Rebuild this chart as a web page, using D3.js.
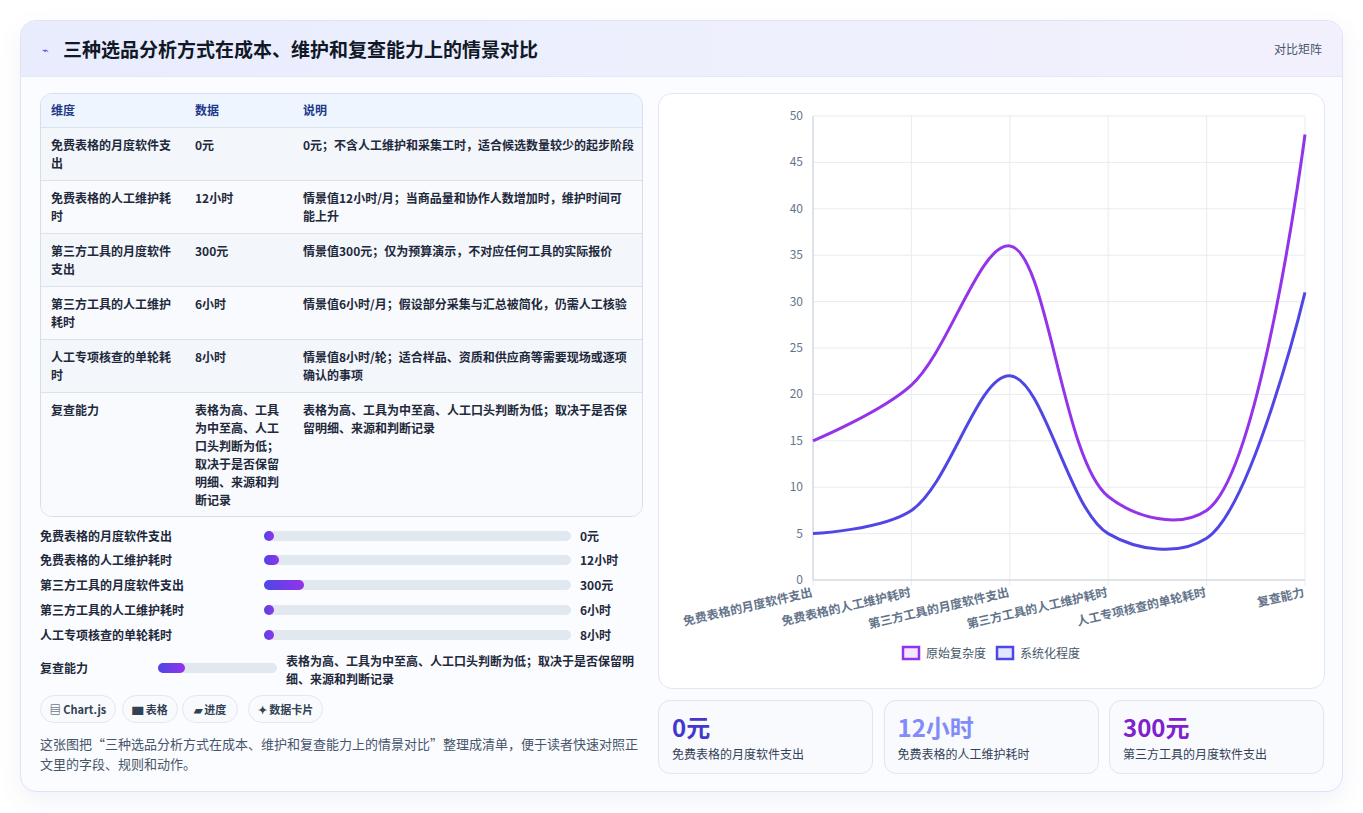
<!DOCTYPE html>
<html><head><meta charset="utf-8">
<script src="https://cdn.jsdelivr.net/npm/d3@7"></script>
<style>
body{margin:0;background:#fff;font-family:"Noto Sans CJK SC","Noto Sans",sans-serif;color:#1e293b;width:1363px;height:813px;overflow:hidden}
#card{position:absolute;left:20px;top:20px;width:1321px;height:770px;border:1px solid #dfe3f5;border-radius:16px;background:#fbfcff;box-shadow:0 8px 24px rgba(80,90,160,.08);overflow:hidden}
#head{height:55px;background:linear-gradient(90deg,#e8ecfd,#eef0fd 60%,#f3f0fd);border-bottom:1px solid #e5e8f5;position:relative}
#head h1{margin:0;position:absolute;left:42px;top:14px;font-size:19px;font-weight:700;color:#111827}
#head .ic{position:absolute;left:21px;top:20px;font-size:11px;color:#4f46e5}
#head .tag{position:absolute;right:20px;top:19px;font-size:12px;color:#475569}
#tbl{position:absolute;left:19px;top:72px;width:601px;height:422px;border:1px solid #d6deea;border-radius:12px;background:#f8fafd;overflow:hidden;font-size:12px;font-weight:700}
.row{position:absolute;left:0;width:100%;border-top:1px solid #dbe2ec}
.row div{position:absolute;line-height:18px}
#bars div.l{position:absolute;font-size:12px;font-weight:700;color:#1e293b}
.chip{position:absolute;top:674px;height:26px;border:1px solid #e2e8f0;border-radius:14px;background:#f8fafc;font-size:11px;font-weight:700;line-height:26px;text-align:center;color:#334155}
#foot{position:absolute;left:19px;top:713px;width:600px;font-size:13px;line-height:20px;color:#475569}
#chartbox{position:absolute;left:637px;top:72px;width:665px;height:594px;border:1px solid #e2e8f0;border-radius:14px;background:#fff}
.kpi{position:absolute;top:679px;height:72px;width:213px;border:1px solid #dde6f2;border-radius:12px;background:#f8fafe}
.kpi .v{position:absolute;left:13px;top:8px;font-size:24px;font-weight:700}
.kpi .t{position:absolute;left:13px;top:44px;font-size:12px;color:#334155}
</style></head>
<body><div id="card"></div>
<script>
const categories = ["免费表格的月度软件支出","免费表格的人工维护耗时","第三方工具的月度软件支出","第三方工具的人工维护耗时","人工专项核查的单轮耗时","复查能力"];
const valueText = ["0元","12小时","300元","6小时","8小时","表格为高、工具为中至高、人工口头判断为低；取决于是否保留明细、来源和判断记录"];
const tableLabels = ["免费表格的月度软件支\n出","免费表格的人工维护耗\n时","第三方工具的月度软件\n支出","第三方工具的人工维护\n耗时","人工专项核查的单轮耗\n时","复查能力"];
const tableData = ["0元","12小时","300元","6小时","8小时","表格为高、工具\n为中至高、人工\n口头判断为低；\n取决于是否保留\n明细、来源和判\n断记录"];
const tableNotes = ["0元；不含人工维护和采集工时，适合候选数量较少的起步阶段","情景值12小时/月；当商品量和协作人数增加时，维护时间可\n能上升","情景值300元；仅为预算演示，不对应任何工具的实际报价","情景值6小时/月；假设部分采集与汇总被简化，仍需人工核验","情景值8小时/轮；适合样品、资质和供应商等需要现场或逐项\n确认的事项","表格为高、工具为中至高、人工口头判断为低；取决于是否保\n留明细、来源和判断记录"];
const barPercent = [3, 5, 13, 3, 3, 23];
const seriesNames = ["原始复杂度","系统化程度"];
const rawComplexity = [15, 21, 36, 9, 7.5, 48];
const systemization = [5, 7.5, 22, 5, 4.5, 31];
const yTicks = [0,5,10,15,20,25,30,35,40,45,50];
const kpis = [{v:"0元",t:"免费表格的月度软件支出",c:"#4338ca"},{v:"12小时",t:"免费表格的人工维护耗时",c:"#818cf8"},{v:"300元",t:"第三方工具的月度软件支出",c:"#7e22ce"}];

const card = d3.select("#card");
const head = card.append("div").attr("id","head");
head.append("span").attr("class","ic").text("⌁");
head.append("h1").text("三种选品分析方式在成本、维护和复查能力上的情景对比");
head.append("span").attr("class","tag").text("对比矩阵");

// table
const tbl = card.append("div").attr("id","tbl");
const hdr = tbl.append("div").attr("class","row").style("top","0px").style("height","33px").style("border-top","none").style("background","#eef5ff").style("color","#1e3a8a");
[["维度",10],["数据",154],["说明",262]].forEach(([t,px]) => hdr.append("div").style("left",px+"px").style("top","7px").text(t));
const rowTop = [33,86,139,192,245,298], rowH = [53,53,53,53,53,124];
tableLabels.forEach((lab,i) => {
  const r = tbl.append("div").attr("class","row").style("top",rowTop[i]+"px").style("height",rowH[i]+"px")
    .style("background", i%2 ? "#f8fafd" : "#f3f6fb");
  [[lab,10,130],[tableData[i],154,100],[tableNotes[i],262,335]].forEach(([t,px,w]) =>
    r.append("div").style("left",px+"px").style("top","8px").style("width",w+"px").style("white-space","pre").style("color","#1e293b").text(t));
});

// progress bars
const bars = card.append("div").attr("id","bars");
const barY = [515,539,564,589,614];
const xBar = d3.scaleLinear().domain([0,100]).range([0,307]);
categories.slice(0,5).forEach((c,i) => {
  bars.append("div").attr("class","l").style("left","19px").style("top",(barY[i]-9)+"px").text(c);
  const tr = bars.append("div").style("position","absolute").style("left","243px").style("top",(barY[i]-5)+"px")
    .style("width","307px").style("height","10px").style("border-radius","5px").style("background","#e2e8f0");
  tr.append("div").style("width",Math.max(10,xBar(barPercent[i]))+"px").style("height","10px").style("border-radius","5px")
    .style("background","linear-gradient(90deg,#4f46e5,#9333ea)");
  bars.append("div").attr("class","l").style("left","559px").style("top",(barY[i]-9)+"px").text(valueText[i]);
});
bars.append("div").attr("class","l").style("left","19px").style("top","638px").text(categories[5]);
const xBar2 = d3.scaleLinear().domain([0,100]).range([0,119]);
bars.append("div").style("position","absolute").style("left","137px").style("top","642px").style("width","119px").style("height","10px")
  .style("border-radius","5px").style("background","#e2e8f0")
  .append("div").style("width",xBar2(barPercent[5])+"px").style("height","10px").style("border-radius","5px").style("background","linear-gradient(90deg,#4f46e5,#9333ea)");
bars.append("div").attr("class","l").style("left","265px").style("top","631px").style("width","360px").style("line-height","18px").text(valueText[5]);

[["▤ Chart.js",19,74],["▆ 表格",101,54],["▰ 进度",161,54],["✦ 数据卡片",227,73]].forEach(([t,px,w]) =>
  card.append("div").attr("class","chip").style("left",px+"px").style("width",w+"px").text(t));
card.append("div").attr("id","foot").text("这张图把“三种选品分析方式在成本、维护和复查能力上的情景对比”整理成清单，便于读者快速对照正文里的字段、规则和动作。");

// line chart
const box = card.append("div").attr("id","chartbox");
const W = 665, H = 594;
const svg = box.append("svg").attr("width",W).attr("height",H);
const m = {left: 154, right: 646, top: 22, bottom: 486};
const x = d3.scalePoint().domain(categories).range([m.left,m.right]);
const y = d3.scaleLinear().domain([0,50]).range([m.bottom,m.top]);
const grid = svg.append("g");
grid.selectAll("line.h").data(yTicks).join("line").attr("x1",m.left).attr("x2",m.right).attr("y1",d=>y(d)).attr("y2",d=>y(d)).attr("stroke","#e8ebf0");
grid.selectAll("line.v").data(categories).join("line").attr("x1",d=>x(d)).attr("x2",d=>x(d)).attr("y1",m.top).attr("y2",m.bottom+6).attr("stroke","#e8ebf0");
svg.append("line").attr("x1",m.left).attr("x2",m.left).attr("y1",m.top).attr("y2",m.bottom).attr("stroke","#cbd2dc");
svg.append("line").attr("x1",m.left).attr("x2",m.right).attr("y1",m.bottom).attr("y2",m.bottom).attr("stroke","#cbd2dc");
svg.selectAll("text.yt").data(yTicks).join("text").attr("x",m.left-10).attr("y",d=>y(d)+4).attr("text-anchor","end")
  .attr("font-size",12).attr("fill","#64748b").text(d=>d);
svg.selectAll("text.xt").data(categories).join("text")
  .attr("transform",d=>`translate(${x(d)},${m.bottom+16}) rotate(-13)`).attr("text-anchor","end")
  .attr("font-size",12).attr("font-weight",700).attr("fill","#64748b").text(d=>d);
const line = d3.line().x((d,i)=>x(categories[i])).y(d=>y(d)).curve(d3.curveCatmullRom.alpha(0.5));
[[rawComplexity,"#9333ea"],[systemization,"#4f46e5"]].forEach(([s,c]) =>
  svg.append("path").attr("d",line(s)).attr("fill","none").attr("stroke",c).attr("stroke-width",3));
const lg = svg.append("g").attr("transform","translate(243,559)");
[[seriesNames[0],"#9333ea","#f3e8ff",0],[seriesNames[1],"#4f46e5","#e0e7ff",94]].forEach(([t,c,f,dx]) => {
  lg.append("rect").attr("x",dx+1).attr("y",-6).attr("width",16).attr("height",12).attr("fill",f).attr("stroke",c).attr("stroke-width",2.5);
  lg.append("text").attr("x",dx+24).attr("y",5).attr("font-size",12).attr("fill","#475569").text(t);
});

// kpi cards
kpis.forEach((k,i) => {
  const d = card.append("div").attr("class","kpi").style("left",(637+i*225.5)+"px");
  d.append("div").attr("class","v").style("color",k.c).text(k.v);
  d.append("div").attr("class","t").text(k.t);
});
</script></body></html>
